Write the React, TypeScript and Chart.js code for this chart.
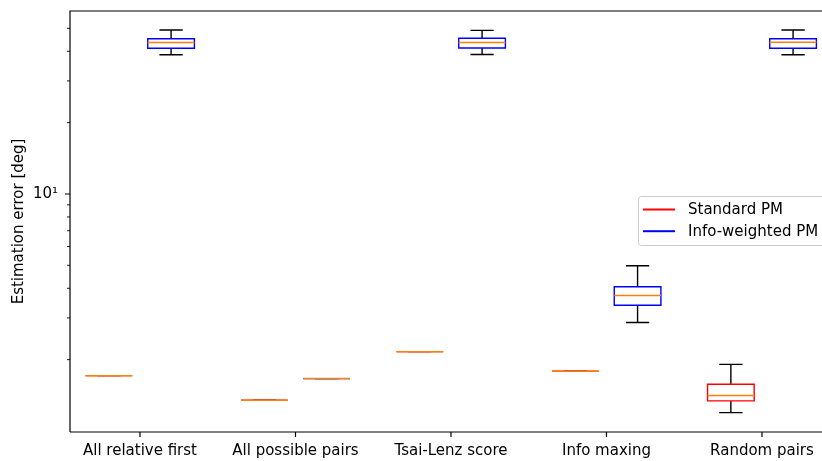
import React, { useEffect, useRef } from "react";
import { Chart, registerables } from "chart.js";

Chart.register(...registerables);

// Categories along the x axis
const categories = [
  "All relative first",
  "All possible pairs",
  "Tsai-Lenz score",
  "Info maxing",
  "Random pairs",
];

const seriesNames = ["Standard PM", "Info-weighted PM"];

// Standard PM box statistics [deg]
const stdWhiskerLo = [1.712, 1.348, 2.161, 1.786, 1.195];
const stdQ1 = [1.712, 1.348, 2.161, 1.786, 1.339];
const stdMedian = [1.712, 1.348, 2.161, 1.786, 1.41];
const stdQ3 = [1.712, 1.348, 2.161, 1.786, 1.574];
const stdWhiskerHi = [1.712, 1.348, 2.161, 1.786, 1.91];

// Info-weighted PM box statistics [deg]
const infoWhiskerLo = [38.7, 1.663, 38.8, 2.87, 38.7];
const infoQ1 = [41.2, 1.663, 41.3, 3.39, 41.2];
const infoMedian = [43.6, 1.663, 43.6, 3.73, 43.7];
const infoQ3 = [45.2, 1.663, 45.4, 4.06, 45.2];
const infoWhiskerHi = [49.2, 1.663, 49.0, 4.98, 49.2];

// Log-axis tick positions (only the decade gets a label)
const yMinorTicks = [2, 3, 4, 5, 6, 7, 8, 9, 20, 30, 40, 50];
const yMajorTicks = [10];
const yMajorLabels = ["10\u00b9"];

const FONT = "'DejaVu Sans', sans-serif";
const COLORS = ["#ff0000", "#0000ff"];
const MEDIAN_COLOR = "#ff7f0e";
const GROUP_OFFSET = 0.2;
const BOX_WIDTH = 0.3;

type BoxStats = { lo: number[]; q1: number[]; med: number[]; q3: number[]; hi: number[] };

const stats: BoxStats[] = [
  { lo: stdWhiskerLo, q1: stdQ1, med: stdMedian, q3: stdQ3, hi: stdWhiskerHi },
  { lo: infoWhiskerLo, q1: infoQ1, med: infoMedian, q3: infoQ3, hi: infoWhiskerHi },
];

// Draws box, whiskers, caps and median for every dataset point
const boxPlotPlugin = {
  id: "boxPlot",
  afterDatasetsDraw(chart: any) {
    const { ctx, scales } = chart;
    const x = scales.x;
    const y = scales.y;
    chart.data.datasets.forEach((ds: any, di: number) => {
      const s = stats[di];
      ds.data.forEach((pt: any, i: number) => {
        const left = x.getPixelForValue(pt.x - BOX_WIDTH / 2);
        const right = x.getPixelForValue(pt.x + BOX_WIDTH / 2);
        const cx = x.getPixelForValue(pt.x);
        const capL = x.getPixelForValue(pt.x - BOX_WIDTH / 4);
        const capR = x.getPixelForValue(pt.x + BOX_WIDTH / 4);
        const yLo = y.getPixelForValue(s.lo[i]);
        const yQ1 = y.getPixelForValue(s.q1[i]);
        const yMed = y.getPixelForValue(s.med[i]);
        const yQ3 = y.getPixelForValue(s.q3[i]);
        const yHi = y.getPixelForValue(s.hi[i]);
        ctx.save();
        ctx.lineWidth = 1.4;
        ctx.strokeStyle = "#000000";
        ctx.beginPath();
        ctx.moveTo(cx, yQ1);
        ctx.lineTo(cx, yLo);
        ctx.moveTo(cx, yQ3);
        ctx.lineTo(cx, yHi);
        ctx.moveTo(capL, yLo);
        ctx.lineTo(capR, yLo);
        ctx.moveTo(capL, yHi);
        ctx.lineTo(capR, yHi);
        ctx.stroke();
        ctx.strokeStyle = ds.borderColor;
        ctx.beginPath();
        ctx.rect(left, yQ3, right - left, yQ1 - yQ3);
        ctx.stroke();
        ctx.strokeStyle = MEDIAN_COLOR;
        ctx.lineWidth = 1.5;
        ctx.beginPath();
        ctx.moveTo(left, yMed);
        ctx.lineTo(right, yMed);
        ctx.stroke();
        ctx.restore();
      });
    });
  },
  afterDraw(chart: any) {
    const { ctx, chartArea, scales } = chart;
    const x = scales.x;
    const y = scales.y;
    ctx.save();
    ctx.strokeStyle = "#000000";
    ctx.lineWidth = 1.2;
    // spines
    ctx.beginPath();
    ctx.moveTo(chartArea.left, chartArea.bottom);
    ctx.lineTo(chartArea.left, chartArea.top);
    ctx.lineTo(chartArea.right, chartArea.top);
    ctx.moveTo(chartArea.left, chartArea.bottom);
    ctx.lineTo(chartArea.right, chartArea.bottom);
    ctx.stroke();
    // tick marks
    ctx.beginPath();
    categories.forEach((_, i) => {
      const px = x.getPixelForValue(i);
      ctx.moveTo(px, chartArea.bottom);
      ctx.lineTo(px, chartArea.bottom + 5);
    });
    yMajorTicks.forEach((v) => {
      const py = y.getPixelForValue(v);
      ctx.moveTo(chartArea.left, py);
      ctx.lineTo(chartArea.left - 5, py);
    });
    ctx.stroke();
    ctx.lineWidth = 0.9;
    ctx.beginPath();
    yMinorTicks.forEach((v) => {
      const py = y.getPixelForValue(v);
      ctx.moveTo(chartArea.left, py);
      ctx.lineTo(chartArea.left - 3, py);
    });
    ctx.stroke();

    // legend
    const lx = 638.5;
    const ly = 196.5;
    const lw = 190;
    const lh = 49;
    const r = 3;
    ctx.beginPath();
    ctx.moveTo(lx + r, ly);
    ctx.lineTo(lx + lw - r, ly);
    ctx.arcTo(lx + lw, ly, lx + lw, ly + r, r);
    ctx.lineTo(lx + lw, ly + lh - r);
    ctx.arcTo(lx + lw, ly + lh, lx + lw - r, ly + lh, r);
    ctx.lineTo(lx + r, ly + lh);
    ctx.arcTo(lx, ly + lh, lx, ly + lh - r, r);
    ctx.lineTo(lx, ly + r);
    ctx.arcTo(lx, ly, lx + r, ly, r);
    ctx.closePath();
    ctx.fillStyle = "rgba(255,255,255,0.8)";
    ctx.fill();
    ctx.strokeStyle = "#cccccc";
    ctx.lineWidth = 1;
    ctx.stroke();
    ctx.font = `15px ${FONT}`;
    ctx.textBaseline = "middle";
    ctx.textAlign = "left";
    chart.data.datasets.forEach((ds: any, i: number) => {
      const rowY = 209.5 + i * 21.7;
      ctx.strokeStyle = ds.borderColor;
      ctx.lineWidth = 2;
      ctx.beginPath();
      ctx.moveTo(643, rowY);
      ctx.lineTo(675, rowY);
      ctx.stroke();
      ctx.fillStyle = "#000000";
      ctx.fillText(ds.label, 688, rowY + 0.5);
    });
    ctx.restore();
  },
};

export default function App() {
  const canvasRef = useRef<HTMLCanvasElement | null>(null);

  useEffect(() => {
    document.body.style.margin = "0";
    const canvas = canvasRef.current;
    if (!canvas) return;

    const datasets = seriesNames.map((name, si) => ({
      label: name,
      data: categories.map((_, i) => ({
        x: i + (si === 0 ? -GROUP_OFFSET : GROUP_OFFSET),
        y: stats[si].med[i],
      })),
      borderColor: COLORS[si],
      backgroundColor: COLORS[si],
      pointRadius: 0,
      pointHoverRadius: 0,
      showLine: false,
    }));

    const chart = new Chart(canvas, {
      type: "scatter",
      data: { datasets },
      options: {
        responsive: false,
        animation: false,
        events: [],
        layout: { padding: { top: 11, left: 0, right: 0, bottom: 0 } },
        plugins: {
          legend: { display: false },
          tooltip: { enabled: false },
          title: { display: false },
        },
        scales: {
          x: {
            type: "linear",
            min: -0.45,
            max: 4.386,
            grid: { display: false, drawTicks: false },
            border: { display: false },
            afterBuildTicks: (scale: any) => {
              scale.ticks = categories.map((_, i) => ({ value: i }));
            },
            afterFit: (scale: any) => {
              scale.height = 29;
              scale.paddingLeft = 0;
              scale.paddingRight = 0;
            },
            ticks: {
              autoSkip: false,
              maxRotation: 0,
              padding: 10,
              color: "#000000",
              font: { family: FONT, size: 15 },
              callback: (v: any) => categories[v as number] ?? "",
            },
          },
          y: {
            type: "logarithmic",
            min: 0.99,
            max: 59.17,
            grid: { display: false, drawTicks: false },
            border: { display: false },
            afterBuildTicks: (scale: any) => {
              scale.ticks = yMajorTicks.map((v) => ({ value: v, major: true }));
            },
            afterFit: (scale: any) => {
              scale.width = 70;
              scale.paddingTop = 0;
              scale.paddingBottom = 0;
            },
            ticks: {
              autoSkip: false,
              padding: 12,
              color: "#000000",
              font: { family: FONT, size: 15 },
              callback: (v: any) => {
                const k = yMajorTicks.indexOf(v as number);
                return k >= 0 ? yMajorLabels[k] : "";
              },
            },
            title: {
              display: true,
              text: "Estimation error [deg]",
              color: "#000000",
              font: { family: FONT, size: 15 },
              padding: { top: 10, bottom: 0 },
            },
          },
        },
      },
      plugins: [boxPlotPlugin],
    });

    return () => chart.destroy();
  }, []);

  return (
    <div style={{ position: "fixed", left: 0, top: 0, width: 822, height: 461, background: "#ffffff" }}>
      <canvas ref={canvasRef} width={822} height={461} style={{ display: "block" }} />
    </div>
  );
}
